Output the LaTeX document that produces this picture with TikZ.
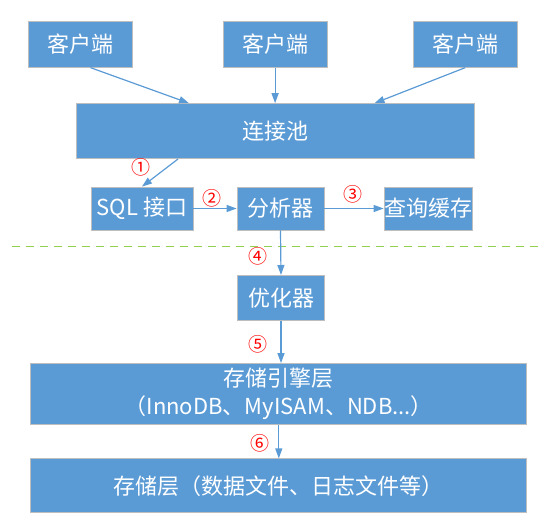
\documentclass[tikz,border=0pt]{standalone}
\usepackage{fontspec}
\setmainfont{Noto Sans CJK SC}
\usetikzlibrary{arrows.meta}
\definecolor{boxblue}{RGB}{91,155,213}
\definecolor{boxline}{RGB}{190,190,190}
\definecolor{sepgreen}{RGB}{146,208,80}
\def\txtsize{\fontsize{22}{28}\selectfont}
\def\numsize{\fontsize{19}{19}\selectfont}

\begin{document}
\begin{tikzpicture}[x=1pt,y=-1pt,
    layer/.style={
      fill=boxblue, draw=boxline, line width=0.8pt, text=white,
      inner sep=0pt, font=\txtsize, align=center
    },
    flow/.style={
      draw=boxblue, line width=1.2pt, -{Triangle[length=10pt,width=7pt]}
    },
    stepnum/.style={text=red, font=\numsize}
  ]
    \useasboundingbox (0,0) rectangle (549,520);

    % clients
    \foreach \x / \name in {80.5/cA, 275.1/cB, 465.2/cC} {
      \node[layer, minimum width=103.6pt, minimum height=45.5pt] (\name) at (\x,44.5) {客户端};
    }
    \node[layer, minimum width=397.6pt, minimum height=55pt] (pool) at (275.5,131.1) {连接池};

    \node[layer, minimum width=102pt, minimum height=43pt] (sqlapi) at (142,208.5) {SQL 接口};
    \node[layer, minimum width=87pt, minimum height=43pt] (parser) at (280.5,208.5) {分析器};
    \node[layer, minimum width=88pt, minimum height=43pt] (cache) at (428,208.5) {查询缓存};

    \draw[sepgreen, line width=1pt, dash pattern=on 8pt off 6pt] (12,246) -- (540,246);

    \node[layer, minimum width=86.4pt, minimum height=44.8pt] (optim) at (281,297.8) {优化器};
    \node[layer, minimum width=496pt, minimum height=61pt] (engine) at (278.8,394) {存储引擎层\\（InnoDB、MyISAM、NDB...）};
    \node[layer, minimum width=496pt, minimum height=54pt] (store) at (278.8,485.8) {存储层（数据文件、日志文件等）};

    % connectors
    \draw[flow] ([xshift=10pt]cA.south) -- ([xshift=-86.5pt]pool.north);
    \draw[flow] (cB.south) -- (cB.south |- pool.north);
    \draw[flow] (cC.south) -- ([xshift=99pt]pool.north);
    \draw[flow] ([xshift=-97.5pt]pool.south) -- (sqlapi.north);
    \draw[flow] (sqlapi.east) -- (parser.west);
    \draw[flow] (parser.east) -- (cache.west);
    \draw[flow] (parser.south) -- (optim.north);
    \draw[flow] (optim.south) -- (optim.south |- engine.north);
    \draw[flow] (engine.south) -- (store.north);

    % step numbers
    \node[stepnum] (n1) at (141,167) {①};
    \node[stepnum] (n2) at (212,198) {②};
    \node[stepnum] (n3) at (353,194) {③};
    \node[stepnum] (n4) at (258,256) {④};
    \node[stepnum] (n5) at (258,344) {⑤};
    \node[stepnum] (n6) at (260,443) {⑥};
  \end{tikzpicture}
\end{document}
